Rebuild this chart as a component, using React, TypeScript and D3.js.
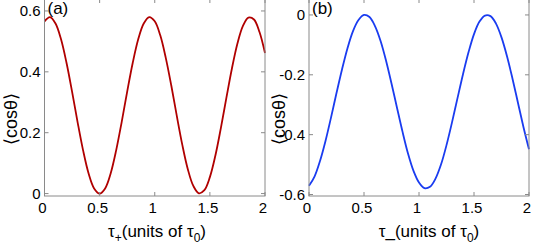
import * as d3 from "d3";
import React from "react";

// tau values (units of tau0), sampled every 0.05
const tau = [
  0, 0.05, 0.1, 0.15, 0.2, 0.25, 0.3, 0.35, 0.4, 0.45, 0.5, 0.55, 0.6, 0.65,
  0.7, 0.75, 0.8, 0.85, 0.9, 0.95, 1, 1.05, 1.1, 1.15, 1.2, 1.25, 1.3, 1.35,
  1.4, 1.45, 1.5, 1.55, 1.6, 1.65, 1.7, 1.75, 1.8, 1.85, 1.9, 1.95, 2,
];

// <cos theta> vs tau+ (panel a)
const cosPlus = [
  0.566, 0.58, 0.559, 0.507, 0.429, 0.335, 0.235, 0.142, 0.066, 0.017, 0.0,
  0.017, 0.066, 0.142, 0.235, 0.335, 0.429, 0.507, 0.559, 0.58, 0.566, 0.52,
  0.446, 0.355, 0.255, 0.16, 0.08, 0.025, 0.001, 0.011, 0.054, 0.125, 0.216,
  0.315, 0.411, 0.493, 0.551, 0.578, 0.572, 0.531, 0.462,
];

// <cos theta> vs tau- (panel b)
const cosMinus = [
  -0.571, -0.54, -0.488, -0.421, -0.343, -0.261, -0.182, -0.111, -0.054,
  -0.017, 0.0, -0.007, -0.037, -0.086, -0.152, -0.229, -0.31, -0.39, -0.463,
  -0.521, -0.56, -0.579, -0.574, -0.547, -0.5, -0.435, -0.359, -0.278, -0.198,
  -0.125, -0.064, -0.022, -0.002, -0.004, -0.029, -0.075, -0.138, -0.213,
  -0.294, -0.375, -0.449,
];

const xTicks = [0, 0.5, 1, 1.5, 2];
const xTickLabels = ["0", "0.5", "1", "1.5", "2"];
const yTicksA = [0, 0.2, 0.4, 0.6];
const yTickLabelsA = ["0", "0.2", "0.4", "0.6"];
const yTicksB = [-0.6, -0.4, -0.2, 0];
const yTickLabelsB = ["-0.6", "-0.4", "-0.2", "0"];

const font = "'Liberation Sans', Arial, sans-serif";
const axisColor = "#8a8a8a";

function Panel({ left, right, top, bottom, yDomain, values, yTicks, yLabels, color, tag, sub, ylabelX, xlabelX }) {
  const x = d3.scaleLinear().domain([0, 2]).range([left, right]);
  const y = d3.scaleLinear().domain(yDomain).range([bottom, top]);
  const line = d3
    .line<number>()
    .x((d, i) => x(tau[i]))
    .y((d) => y(d))
    .curve(d3.curveCatmullRom);
  const tl = 4;
  const isPlus = sub === "+";

  return (
    <g fontFamily={font}>
      <path d={line(values)} fill="none" stroke={color} strokeWidth={1.8} />
      <rect x={left} y={top} width={right - left} height={bottom - top} fill="none" stroke={axisColor} strokeWidth={1} />
      {xTicks.map((t, i) => (
        <g key={"x" + i}>
          <line x1={x(t)} x2={x(t)} y1={bottom} y2={bottom - tl} stroke={axisColor} />
          <line x1={x(t)} x2={x(t)} y1={top} y2={top + tl} stroke={axisColor} />
          <text x={x(t) - 2} y={bottom + 17} textAnchor="middle" fontSize={15} fill="#000">
            {xTickLabels[i]}
          </text>
        </g>
      ))}
      {yTicks.map((t, i) => (
        <g key={"y" + i}>
          <line x1={left} x2={left + tl} y1={y(t)} y2={y(t)} stroke={axisColor} />
          <line x1={right} x2={right - tl} y1={y(t)} y2={y(t)} stroke={axisColor} />
          <text x={left - 4} y={y(t) + 5} textAnchor="end" fontSize={15} fill="#000">
            {yLabels[i]}
          </text>
        </g>
      ))}
      <text x={left + 3} y={14} fontSize={17} fill="#000">
        {tag}
      </text>
      <text x={xlabelX} y={237} textAnchor="middle" fontSize={17} fill="#000">
        τ
        <tspan fontSize={isPlus ? 12 : 17} dy={isPlus ? 5 : 0}>{sub}</tspan>
        <tspan dy={isPlus ? -5 : 0}>(units of τ</tspan>
        <tspan fontSize={12} dy={5}>0</tspan>
        <tspan dy={-5}>)</tspan>
      </text>
      <text
        transform={`translate(${ylabelX},119) rotate(-90)`}
        textAnchor="middle"
        fontSize={18}
        fill="#000"
      >
        ⟨cosθ⟩
      </text>
    </g>
  );
}

export default function App() {
  return (
    <svg width={534} height={245} style={{ position: "absolute", left: 0, top: 0, background: "#fff" }}>
      <Panel
        left={44.5}
        right={265}
        top={-1}
        bottom={196}
        yDomain={[-0.008, 0.6393]}
        values={cosPlus}
        yTicks={yTicksA}
        yLabels={yTickLabelsA}
        color="#b00000"
        tag="(a)"
        sub="+"
        ylabelX={17}
        xlabelX={157}
      />
      <Panel
        left={309}
        right={529}
        top={-1}
        bottom={196}
        yDomain={[-0.605, 0.0533]}
        values={cosMinus}
        yTicks={yTicksB}
        yLabels={yTickLabelsB}
        color="#1a3cf0"
        tag="(b)"
        sub="_"
        ylabelX={285}
        xlabelX={429}
      />
    </svg>
  );
}
